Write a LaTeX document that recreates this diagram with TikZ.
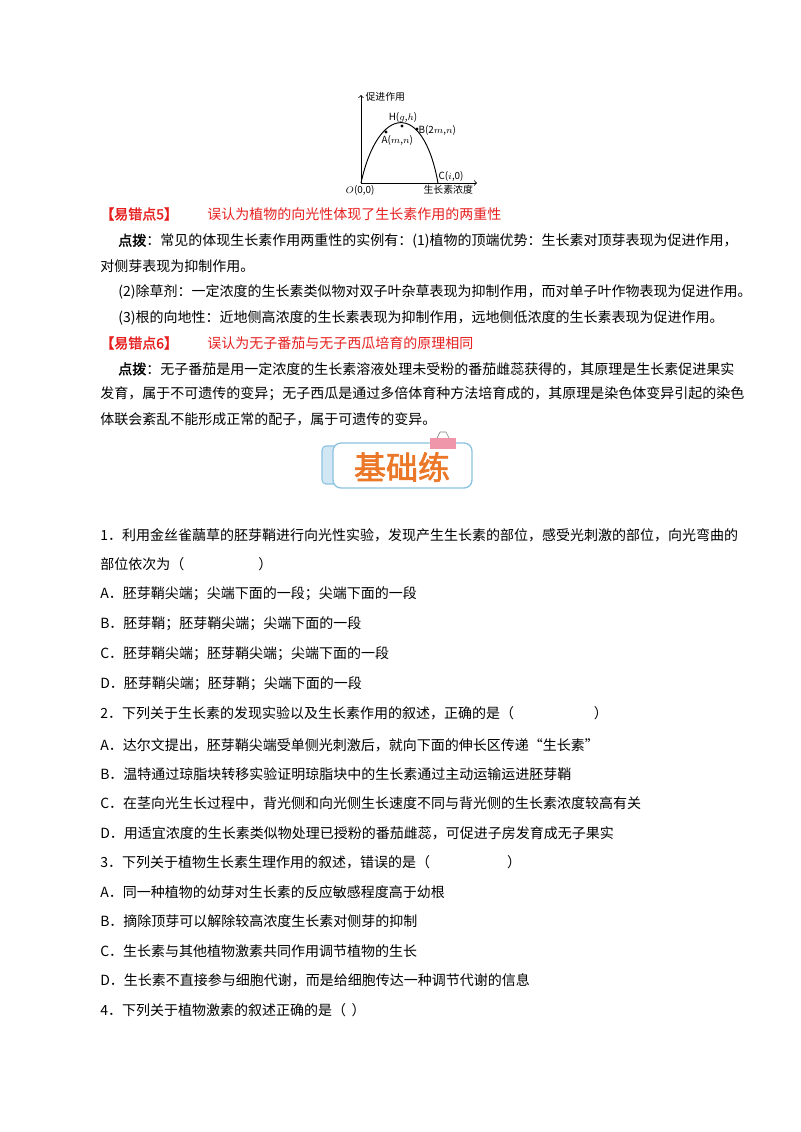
\documentclass[tikz,border=0pt]{standalone}
\usepackage{fontspec}
\setmainfont{Noto Sans CJK SC}[AutoFakeBold=2]
\usetikzlibrary{positioning}
\definecolor{errred}{RGB}{230,30,30}
\definecolor{bannerblue}{RGB}{140,195,225}
\definecolor{bannerorange}{RGB}{235,120,40}
\definecolor{clippink}{RGB}{240,150,170}
\begin{document}
\begin{tikzpicture}
[
x=0.75pt,y=-0.75pt,
line/.style={anchor=west,inner sep=0pt,font=\fontsize{10.5}{12}\selectfont},
tag/.style={anchor=west,inner sep=0pt,font=\fontsize{10.5}{12}\selectfont\bfseries,text=errred},
small/.style={inner sep=1pt,font=\fontsize{7.4}{8}\selectfont},
dot/.style={circle,fill,inner sep=0.9pt},
]
\useasboundingbox (0,0) rectangle (800,1132);

%Place the graph
\coordinate (o) at (361,183);
\coordinate (ytop) at (361,95);
\coordinate (xend) at (477,183);
\coordinate (c) at (438,183);
\node[dot] (a) at (386,132) {};
\node[dot] (h) at (402,126) {};
\node[dot] (b) at (417,129) {};
\draw[->,line width=0.6pt] (o) -- (ytop);
\draw[->,line width=0.6pt] (o) -- (xend);
\draw[line width=0.7pt] (o) .. controls (378,105) and (423,100) .. (c);
\node[small,anchor=west] (ylab) at (364,97) {促进作用};
\node[small,anchor=south] (hlab) at (403,124) {H($g$,$h$)};
\node[small,anchor=north west] (alab) at (380,134) {A($m$,$n$)};
\node[small,anchor=west] (blab) at (417,130) {B(2$m$,$n$)};
\node[small,anchor=south west] (clab) at (437,183) {C($i$,0)};
\node[small,anchor=north] (olab) at (360,184) {$O$(0,0)};
\node[small,anchor=north west] (xlab) at (422,184) {生长素浓度};

%Notes
\node[tag] (t5) at (100,214) {【易错点5】};
\node[line,text=errred] (t5txt) at (207,214) {误认为植物的向光性体现了生长素作用的两重性};
\node[line] (n1) at (118,241) {\textbf{点拨}：常见的体现生长素作用两重性的实例有：(1)植物的顶端优势：生长素对顶芽表现为促进作用，};
\node[line] (n2) at (100,266) {对侧芽表现为抑制作用。};
\node[line] (n3) at (118,292) {(2)除草剂：一定浓度的生长素类似物对双子叶杂草表现为抑制作用，而对单子叶作物表现为促进作用。};
\node[line] (n4) at (118,318) {(3)根的向地性：近地侧高浓度的生长素表现为抑制作用，远地侧低浓度的生长素表现为促进作用。};
\node[tag] (t6) at (100,343) {【易错点6】};
\node[line,text=errred] (t6txt) at (207,343) {误认为无子番茄与无子西瓜培育的原理相同};
\node[line] (m1) at (118,369) {\textbf{点拨}：无子番茄是用一定浓度的生长素溶液处理未受粉的番茄雌蕊获得的，其原理是生长素促进果实};
\node[line] (m2) at (100,394) {发育，属于不可遗传的变异；无子西瓜是通过多倍体育种方法培育成的，其原理是染色体变异引起的染色};
\node[line] (m3) at (100,419) {体联会紊乱不能形成正常的配子，属于可遗传的变异。};

%Banner
\draw[bannerblue,fill=bannerblue!40,rounded corners=3pt,line width=0.8pt] (322,446) rectangle (340,484);
\draw[bannerblue,fill=white,rounded corners=6pt,line width=1pt] (333,443) rectangle (472,488);
\fill[clippink] (430,438) rectangle (456,449);
\draw[gray,line width=0.5pt] (437,438) -- (440,432) -- (446,432) -- (449,438);
\node[inner sep=0pt,text=bannerorange,font=\fontsize{24}{26}\selectfont\bfseries] (banner) at (402,467) {基础练};

%Questions
\node[line] (q1) at (100,535) {1．利用金丝雀虉草的胚芽鞘进行向光性实验，发现产生生长素的部位，感受光刺激的部位，向光弯曲的};
\node[line] (q1b) at (100,564) {部位依次为（\hspace{5.3em}）};
\node[line] (q1a) at (100,594) {A．胚芽鞘尖端；尖端下面的一段；尖端下面的一段};
\node[line] (q1bb) at (100,624) {B．胚芽鞘；胚芽鞘尖端；尖端下面的一段};
\node[line] (q1c) at (100,654) {C．胚芽鞘尖端；胚芽鞘尖端；尖端下面的一段};
\node[line] (q1d) at (100,684) {D．胚芽鞘尖端；胚芽鞘；尖端下面的一段};
\node[line] (q2) at (100,713) {2．下列关于生长素的发现实验以及生长素作用的叙述，正确的是（\hspace{5.7em}）};
\node[line] (q2a) at (100,745) {A．达尔文提出，胚芽鞘尖端受单侧光刺激后，就向下面的伸长区传递“生长素”};
\node[line] (q2b) at (100,774) {B．温特通过琼脂块转移实验证明琼脂块中的生长素通过主动运输运进胚芽鞘};
\node[line] (q2c) at (100,803) {C．在茎向光生长过程中，背光侧和向光侧生长速度不同与背光侧的生长素浓度较高有关};
\node[line] (q2d) at (100,833) {D．用适宜浓度的生长素类似物处理已授粉的番茄雌蕊，可促进子房发育成无子果实};
\node[line] (q3) at (100,862) {3．下列关于植物生长素生理作用的叙述，错误的是（\hspace{5.5em}）};
\node[line] (q3a) at (100,892) {A．同一种植物的幼芽对生长素的反应敏感程度高于幼根};
\node[line] (q3b) at (100,921) {B．摘除顶芽可以解除较高浓度生长素对侧芽的抑制};
\node[line] (q3c) at (100,951) {C．生长素与其他植物激素共同作用调节植物的生长};
\node[line] (q3d) at (100,980) {D．生长素不直接参与细胞代谢，而是给细胞传达一种调节代谢的信息};
\node[line] (q4) at (100,1010) {4．下列关于植物激素的叙述正确的是（\hspace{0.4em}）};
\end{tikzpicture}
\end{document}
